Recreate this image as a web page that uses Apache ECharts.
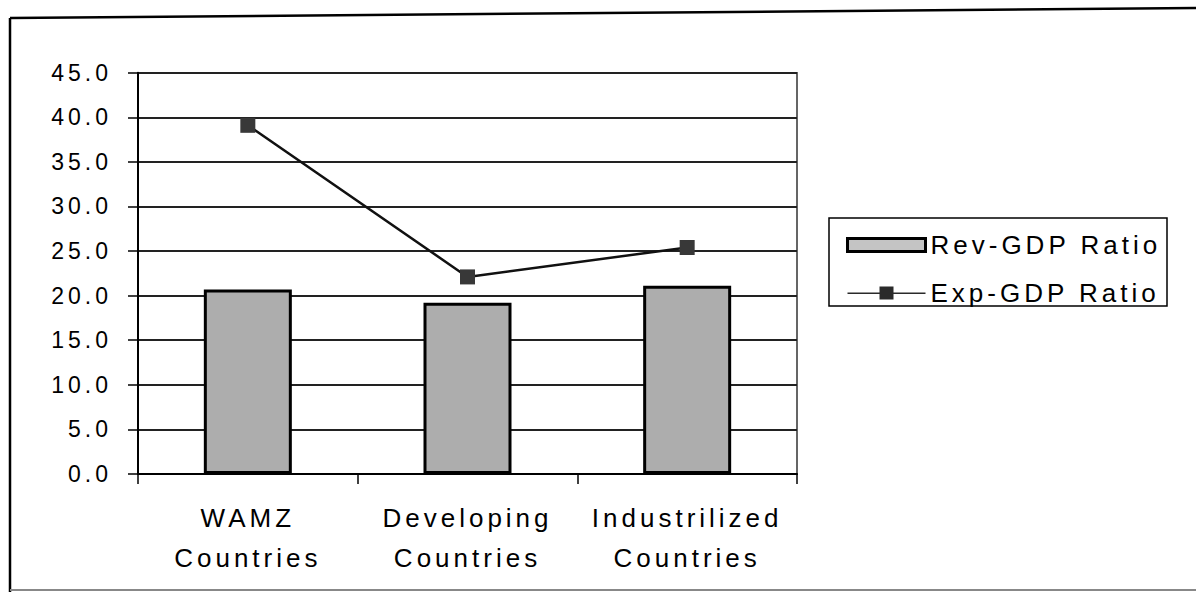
<!DOCTYPE html>
<html>
<head>
<meta charset="utf-8">
<script src="https://cdn.jsdelivr.net/npm/echarts@6/dist/echarts.min.js"></script>
<style>
  html, body { margin: 0; padding: 0; background: #fff; }
  #chart { width: 1196px; height: 592px; }
  #chart svg text { letter-spacing: 4px; }
</style>
</head>
<body>
<div id="chart"></div>
<script>
const categories = ['WAMZ\nCountries', 'Developing\nCountries', 'Industrilized\nCountries'];
const revGdp = [20.7, 19.2, 21.1];
const expGdp = [39.1, 22.1, 25.4];
const seriesNames = ['Rev-GDP Ratio', 'Exp-GDP Ratio'];
const yMin = 0, yMax = 45, yStep = 5;

const FONT = '"Liberation Sans", Arial, sans-serif';
const chart = echarts.init(document.getElementById('chart'), null, { renderer: 'svg' });

const lineLegendIcon = 'path://M0,6 L32,6 L32,0 L46,0 L46,6 L78,6 L78,7.5 L46,7.5 L46,13 L32,13 L32,7.5 L0,7.5 Z';

chart.setOption({
  backgroundColor: '#ffffff',
  animation: false,
  grid: {
    left: 138, right: 399, top: 72.7, bottom: 118,
    show: true, borderColor: '#333', borderWidth: 1.5
  },
  legend: {
    orient: 'vertical',
    left: 841, top: 227,
    itemWidth: 78, itemHeight: 13, itemGap: 22,
    textStyle: { fontSize: 26, fontFamily: FONT, color: '#000' },
    data: [
      { name: seriesNames[0], icon: 'rect', itemStyle: { color: '#c4c4c4', borderColor: '#000', borderWidth: 3 } },
      { name: seriesNames[1], icon: lineLegendIcon, itemStyle: { color: '#2a2a2a', borderWidth: 0 } }
    ]
  },
  xAxis: {
    type: 'category',
    data: categories,
    axisLine: { lineStyle: { color: '#000', width: 2 } },
    axisTick: { show: true, length: 10, inside: false, lineStyle: { color: '#000', width: 1.5 } },
    axisLabel: { fontSize: 26, lineHeight: 40, fontFamily: FONT, color: '#000', margin: 24 }
  },
  yAxis: {
    type: 'value',
    min: yMin, max: yMax, interval: yStep,
    axisLine: { show: true, lineStyle: { color: '#000', width: 2 } },
    axisTick: { show: true, length: 10, lineStyle: { color: '#000', width: 1.5 } },
    splitLine: { show: true, lineStyle: { color: '#222', width: 2 } },
    axisLabel: {
      fontSize: 23, fontFamily: FONT, color: '#000', margin: 26,
      formatter: v => v.toFixed(1)
    }
  },
  series: [
    {
      name: seriesNames[0],
      type: 'bar',
      data: revGdp,
      barWidth: 88,
      itemStyle: { color: '#adadad', borderColor: '#000', borderWidth: 3 },
      z: 2
    },
    {
      name: seriesNames[1],
      type: 'line',
      data: expGdp,
      symbol: 'rect',
      symbolSize: 15,
      itemStyle: { color: '#383838' },
      lineStyle: { color: '#111', width: 2.5 },
      z: 3
    }
  ],
  graphic: [
    { type: 'line', shape: { x1: 10, y1: 18, x2: 1196, y2: 8 }, style: { stroke: '#000', lineWidth: 2.5 } },
    { type: 'line', shape: { x1: 10, y1: 18, x2: 10, y2: 592 }, style: { stroke: '#000', lineWidth: 2.5 } },
    { type: 'line', shape: { x1: 10, y1: 590, x2: 1196, y2: 590 }, style: { stroke: '#888', lineWidth: 2 } },
    { type: 'rect', shape: { x: 829, y: 218, width: 338, height: 88 }, style: { fill: 'none', stroke: '#000', lineWidth: 1.5 } }
  ]
});
</script>
</body>
</html>
